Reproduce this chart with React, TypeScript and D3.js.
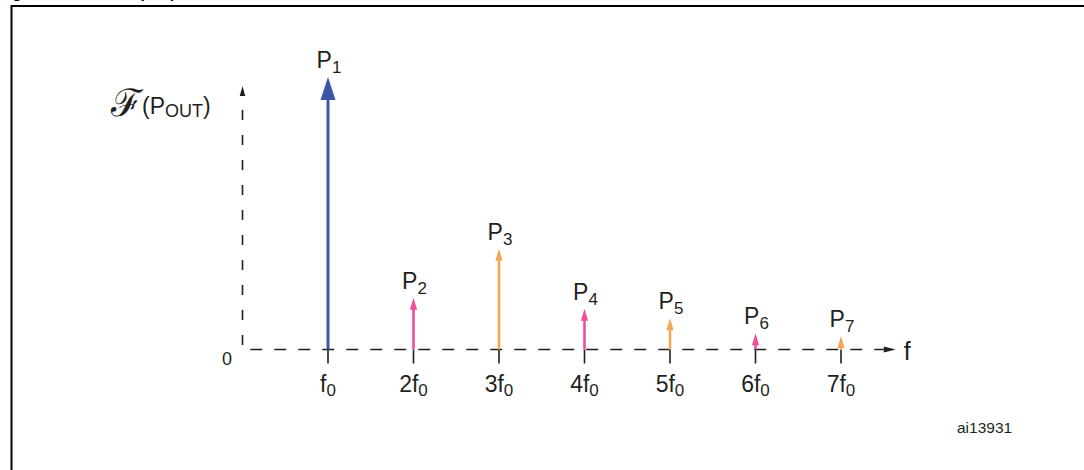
import { useEffect, useRef } from "react";
import * as d3 from "d3";

// harmonic index (n * f0) and relative amplitude of each spectral line
const harmonics = [1, 2, 3, 4, 5, 6, 7];
const amplitudes = [1, 0.19, 0.37, 0.15, 0.115, 0.06, 0.05];
const lineLabels = ["1", "2", "3", "4", "5", "6", "7"];
const tickLabels = ["", "2", "3", "4", "5", "6", "7"];
const lineColors = ["#3a56a5", "#ee4e9c", "#f4a658", "#ee4e9c", "#f4a658", "#ee4e9c", "#f4a658"];

const W = 1084, H = 470;
const textColor = "#231f20";
const sans = "Liberation Sans, Arial, sans-serif";

const App = () => {
  const ref = useRef<SVGSVGElement>(null);

  useEffect(() => {
    const svg = d3.select(ref.current);
    svg.selectAll("*").remove();

    const x = d3.scaleLinear().domain([0, 7]).range([242.5, 841]);
    const y = d3.scaleLinear().domain([0, 1]).range([349.5, 77]);

    // frame + title (only its bottom edge is visible)
    svg.append("text")
      .attr("x", -2).attr("y", -1.8)
      .attr("font-family", sans)
      .attr("font-weight", "bold").attr("font-size", 16).attr("fill", "#000")
      .text("Figure 7.");
    svg.append("text")
      .attr("x", 113).attr("y", -1.8)
      .attr("font-family", sans)
      .attr("font-weight", "bold").attr("font-size", 16).attr("fill", "#000")
      .text("Output power");
    svg.append("path")
      .attr("d", `M11.5,${H} V6 H${W}`)
      .attr("fill", "none").attr("stroke", "#000").attr("stroke-width", 2);

    const g = svg.append("g");

    // y axis (dashed, arrow on top)
    const yTop = 0.967;
    g.append("line")
      .attr("x1", x(0)).attr("x2", x(0))
      .attr("y1", y(0) - 4.5).attr("y2", y(yTop) + 9)
      .attr("stroke", textColor).attr("stroke-width", 1.6)
      .attr("stroke-dasharray", "10 15");
    g.append("path")
      .attr("d", `M${x(0)},${y(yTop)} l-2.8,10 h5.6 Z`)
      .attr("fill", textColor);

    // x axis (dashed, arrow on right)
    const xEnd = 7.64;
    g.append("line")
      .attr("x1", x(0.09)).attr("x2", x(xEnd) - 12)
      .attr("y1", y(0)).attr("y2", y(0))
      .attr("stroke", textColor).attr("stroke-width", 1.6)
      .attr("stroke-dasharray", "12 12");
    g.append("path")
      .attr("d", `M${x(xEnd)},${y(0)} l-12,-3 v6 Z`)
      .attr("fill", textColor);

    // tick marks under each harmonic
    g.selectAll("line.tick")
      .data(harmonics)
      .join("line")
      .attr("class", "tick")
      .attr("x1", d => x(d)).attr("x2", d => x(d))
      .attr("y1", y(0)).attr("y2", y(0) + 14)
      .attr("stroke", textColor).attr("stroke-width", 1.6);

    // tick labels n f0
    const tl = g.selectAll("text.tl")
      .data(harmonics)
      .join("text")
      .attr("class", "tl")
      .attr("x", d => x(d)).attr("y", 392)
      .attr("text-anchor", "middle")
      .attr("font-family", sans)
      .attr("font-size", 23).attr("fill", textColor);
    tl.append("tspan").text((d, i) => tickLabels[i] + "f");
    tl.append("tspan").attr("font-size", 17).attr("dy", 4).text("0");

    // spectral lines with arrow heads
    harmonics.forEach((h, i) => {
      const big = i === 0;
      const hw = big ? 7.5 : 3.6;
      const hl = big ? 23 : 12;
      const tip = y(amplitudes[i]);
      g.append("line")
        .attr("x1", x(h)).attr("x2", x(h))
        .attr("y1", y(0)).attr("y2", tip + hl - 1)
        .attr("stroke", lineColors[i]).attr("stroke-width", big ? 3 : 2.6);
      g.append("path")
        .attr("d", `M${x(h)},${tip} L${x(h) - hw},${tip + hl} L${x(h) + hw},${tip + hl} Z`)
        .attr("fill", lineColors[i]);

      const t = g.append("text")
        .attr("x", x(h) + 1).attr("y", tip - 9)
        .attr("text-anchor", "middle")
        .attr("font-family", sans)
        .attr("font-size", 23).attr("fill", textColor);
      t.append("tspan").text("P");
      t.append("tspan").attr("font-size", 17).attr("dy", 5).text(lineLabels[i]);
    });

    // axis annotations
    g.append("text")
      .attr("x", 227).attr("y", 365).attr("text-anchor", "middle")
      .attr("font-family", sans)
      .attr("font-size", 18).attr("fill", textColor)
      .text("0");
    g.append("text")
      .attr("x", x(xEnd) + 8).attr("y", 360)
      .attr("font-family", sans)
      .attr("font-size", 25).attr("fill", textColor)
      .text("f");

    g.append("text")
      .attr("x", 111).attr("y", 116)
      .attr("font-family", "DejaVu Serif, serif")
      .attr("font-size", 38).attr("fill", textColor)
      .text("\u2131");
    const pl = g.append("text")
      .attr("x", 142).attr("y", 114)
      .attr("font-family", sans)
      .attr("font-size", 23).attr("fill", textColor);
    pl.append("tspan").text("(P");
    pl.append("tspan").attr("font-size", 18).attr("dy", 3).text("OUT");
    pl.append("tspan").attr("dy", -3).text(")");

    g.append("text")
      .attr("x", 957).attr("y", 433)
      .attr("font-family", sans)
      .attr("font-size", 15.5).attr("fill", textColor)
      .text("ai13931");
  }, []);

  return (
    <>
      <style>{`body{margin:0}`}</style>
      <svg ref={ref} width={W} height={H} style={{ display: "block", background: "#fff" }} />
    </>
  );
};

export default App;
